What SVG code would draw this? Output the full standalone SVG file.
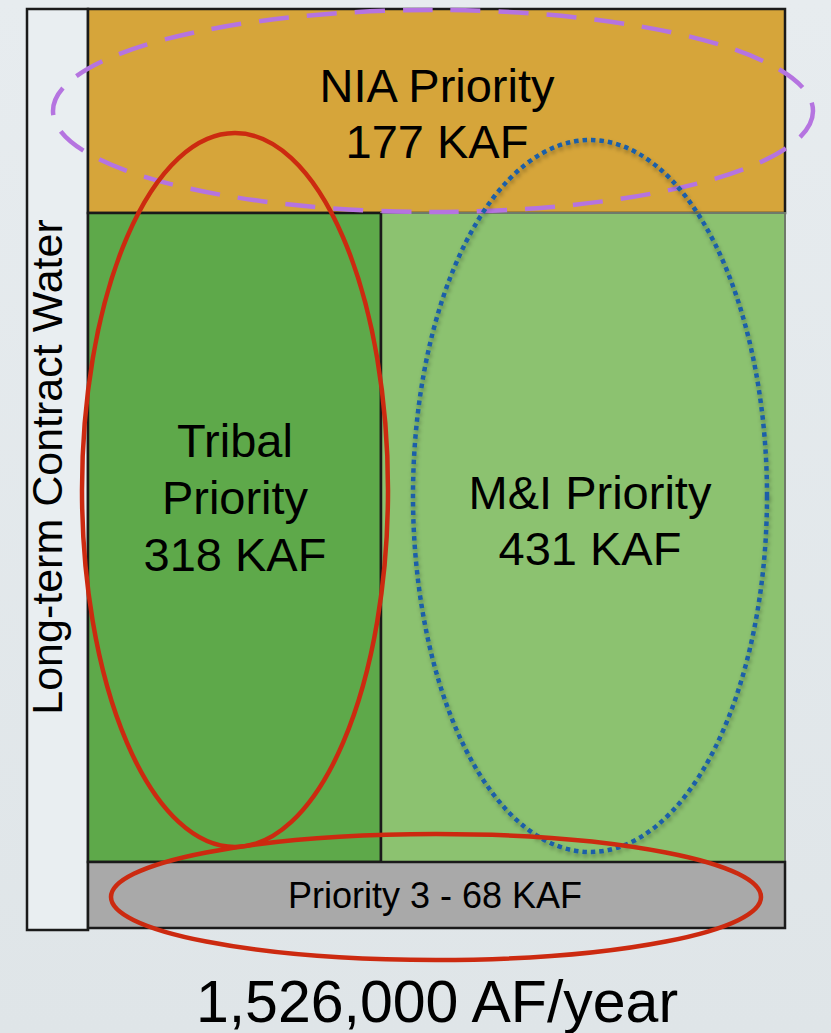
<svg xmlns="http://www.w3.org/2000/svg" width="831" height="1033" viewBox="0 0 831 1033">
<style>
  text { font-family: "Liberation Sans", Arial, sans-serif; fill: #000; text-anchor: middle; }
  .box { stroke: #1a1a1a; stroke-width: 2.5; }
  .big { font-size: 47px; }
  .ring { fill: none; stroke-width: 4.5; }
</style>
<defs>
  <linearGradient id="bg" x1="0" y1="0" x2="0" y2="1">
    <stop offset="0" stop-color="#e7ecef"/>
    <stop offset="1" stop-color="#dfe5e8"/>
  </linearGradient>
  <filter id="shadow" x="-10%" y="-10%" width="120%" height="120%">
    <feDropShadow dx="1" dy="3" stdDeviation="2" flood-color="#000" flood-opacity="0.35"/>
  </filter>
</defs>
<rect x="0" y="0" width="831" height="1033" fill="url(#bg)"/>

<g id="side-label">
  <rect class="box" x="27" y="9" width="61" height="921" fill="#e9eef1"/>
  <text transform="translate(62,467) rotate(-90)" style="font-size:43px">Long-term Contract Water</text>
</g>

<g id="nia">
  <rect class="box" x="88" y="9" width="697" height="204" fill="#d6a53a"/>
  <text class="big" x="437" y="102">NIA Priority</text>
  <text class="big" x="437" y="158">177 KAF</text>
</g>

<g id="tribal">
  <rect class="box" x="88" y="213" width="293" height="649" fill="#5ea94a"/>
</g>

<g id="mi">
  <rect x="381" y="213" width="404" height="649" fill="#8cc270" stroke="#6f7a6a" stroke-width="2"/>
  <line x1="381" y1="213" x2="381" y2="862" stroke="#1a1a1a" stroke-width="2.5"/>
</g>

<g id="priority3">
  <rect class="box" x="88" y="862" width="697" height="66" fill="#a9a9a9"/>
  <text x="435" y="908" style="font-size:36px">Priority 3 - 68 KAF</text>
</g>

<g id="highlights">
  <ellipse class="ring" cx="433" cy="111" rx="380" ry="101" stroke="#b574e0" stroke-width="5" stroke-dasharray="30 18"/>
  <ellipse class="ring" cx="235" cy="490" rx="153" ry="357" stroke="#cc2a10"/>
  <ellipse class="ring" cx="590" cy="496" rx="177" ry="356" stroke="#1a5fa8" stroke-dasharray="4.5 4" filter="url(#shadow)"/>
  <ellipse class="ring" cx="436" cy="897" rx="325" ry="63" stroke="#cc2a10"/>
</g>

<g id="labels">
  <text class="big" x="235" y="457">Tribal</text>
  <text class="big" x="235" y="514">Priority</text>
  <text class="big" x="235" y="571">318 KAF</text>
  <text class="big" x="590" y="509">M&amp;I Priority</text>
  <text class="big" x="590" y="565">431 KAF</text>
</g>

<g id="total">
  <text x="437" y="1022" style="font-size:59px">1,526,000 AF/year</text>
</g>
</svg>
